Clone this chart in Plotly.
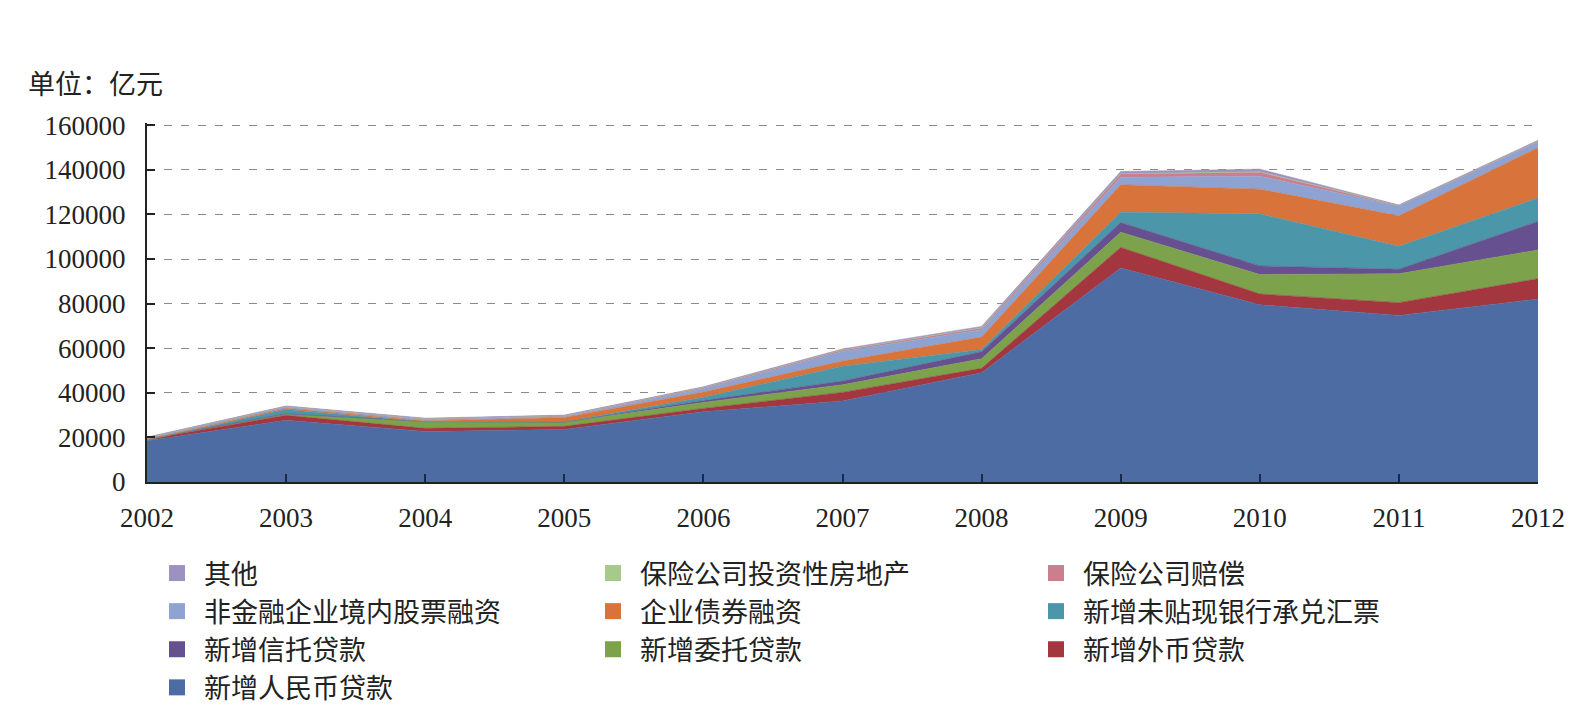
import plotly.graph_objects as go

years = [2002, 2003, 2004, 2005, 2006, 2007, 2008, 2009, 2010, 2011, 2012]

rmb_loans = [18475, 27652, 22673, 23544, 31523, 36323, 49041, 95942, 79451, 74715, 82035]
fx_loans = [731, 2285, 1381, 1415, 1459, 3864, 1947, 9265, 4855, 5712, 9163]
entrusted_loans = [175, 601, 3118, 1961, 2695, 3371, 4262, 6780, 8748, 12962, 12838]
trust_loans = [0, 0, 0, 0, 825, 1702, 3144, 4364, 3865, 2034, 12845]
undiscounted_bills = [-695, 2010, -290, 24, 1500, 6701, 1064, 4606, 23346, 10271, 10499]
corp_bonds = [367, 499, 467, 2010, 2310, 2284, 5523, 12367, 11063, 13658, 22551]
equity = [628, 559, 673, 339, 1536, 4333, 3324, 3350, 5786, 4377, 2508]
ins_compensation = [250, 300, 350, 400, 500, 600, 800, 1500, 1800, 300, 400]
ins_property = [0, 0, 0, 0, 0, 50, 80, 100, 200, 50, 100]
other = [180, 200, 250, 300, 350, 450, 600, 1000, 1200, 150, 300]

# bottom -> top stacking order: (name, values, color, legend column)
series = [
    ("新增人民币贷款", rmb_loans, "#4C6CA3", "legend"),
    ("新增外币贷款", fx_loans, "#A3363F", "legend3"),
    ("新增委托贷款", entrusted_loans, "#7DA24C", "legend2"),
    ("新增信托贷款", trust_loans, "#67508F", "legend"),
    ("新增未贴现银行承兑汇票", undiscounted_bills, "#4B96A8", "legend3"),
    ("企业债券融资", corp_bonds, "#D8733C", "legend2"),
    ("非金融企业境内股票融资", equity, "#8EA3D1", "legend"),
    ("保险公司赔偿", ins_compensation, "#C97F8E", "legend3"),
    ("保险公司投资性房地产", ins_property, "#A7C98C", "legend2"),
    ("其他", other, "#9D91C2", "legend"),
]

FONT = "Liberation Serif, Noto Sans CJK SC, serif"

fig = go.Figure()
for name, vals, color, lg in series:
    fig.add_trace(go.Scatter(
        x=years, y=vals, name=name, mode="lines",
        stackgroup="one", line=dict(width=0.6, color=color),
        fillcolor=color, showlegend=False, hoverinfo="x+y+name",
    ))
for name, vals, color, lg in series:
    fig.add_trace(go.Scatter(
        x=[None], y=[None], name=name, mode="markers",
        marker=dict(symbol="square", size=17, color=color),
        legend=lg, showlegend=True,
    ))

W, H = 1586, 721
L, R, B = 147, 1538, 482
Y_TOP = 161000
T = B - (B - 125.5) * Y_TOP / 160000

legend_common = dict(
    orientation="v", traceorder="reversed", xref="container", yref="container",
    xanchor="left", yanchor="top", font=dict(family=FONT, size=27, color="#222"),
    bgcolor="rgba(0,0,0,0)", itemwidth=44, tracegroupgap=0,
)
top = 1 - 549 / H
fig.update_layout(
    width=W, height=H,
    margin=dict(l=L, r=W - R, t=T, b=H - B, autoexpand=False),
    paper_bgcolor="white", plot_bgcolor="white",
    font=dict(family=FONT, size=27, color="#222"),
    showlegend=True,
    legend=dict(x=150 / W, y=top, **legend_common),
    legend2=dict(x=586 / W, y=top, **legend_common),
    legend3=dict(x=1029 / W, y=top, **legend_common),
    xaxis=dict(
        range=[2002, 2012], tickvals=years, ticktext=[str(y) for y in years],
        showgrid=False, showline=True, linecolor="#222", linewidth=2,
        ticks="inside", ticklen=8, tickwidth=2, tickcolor="#1a2a4a",
        tickfont=dict(family=FONT, size=27, color="#222"), ticklabelstandoff=11,
        zeroline=False,
    ),
    yaxis=dict(
        range=[0, Y_TOP], tickvals=list(range(0, 160001, 20000)),
        tickformat="d",
        showgrid=True, gridcolor="#8a8a8a", griddash="8px,9px", gridwidth=1.4,
        showline=True, linecolor="#222", linewidth=2,
        ticks="inside", ticklen=8, tickwidth=2, tickcolor="#222",
        tickfont=dict(family=FONT, size=27, color="#222"), ticklabelstandoff=14,
        zeroline=False,
    ),
    annotations=[dict(
        text="单位：亿元", xref="paper", yref="paper",
        x=-(L - 26) / (R - L), y=1 + (T - 85) / (B - T),
        xanchor="left", yanchor="middle", showarrow=False,
        font=dict(family=FONT, size=27, color="#222"),
    )],
)

fig.write_html("out.html")
